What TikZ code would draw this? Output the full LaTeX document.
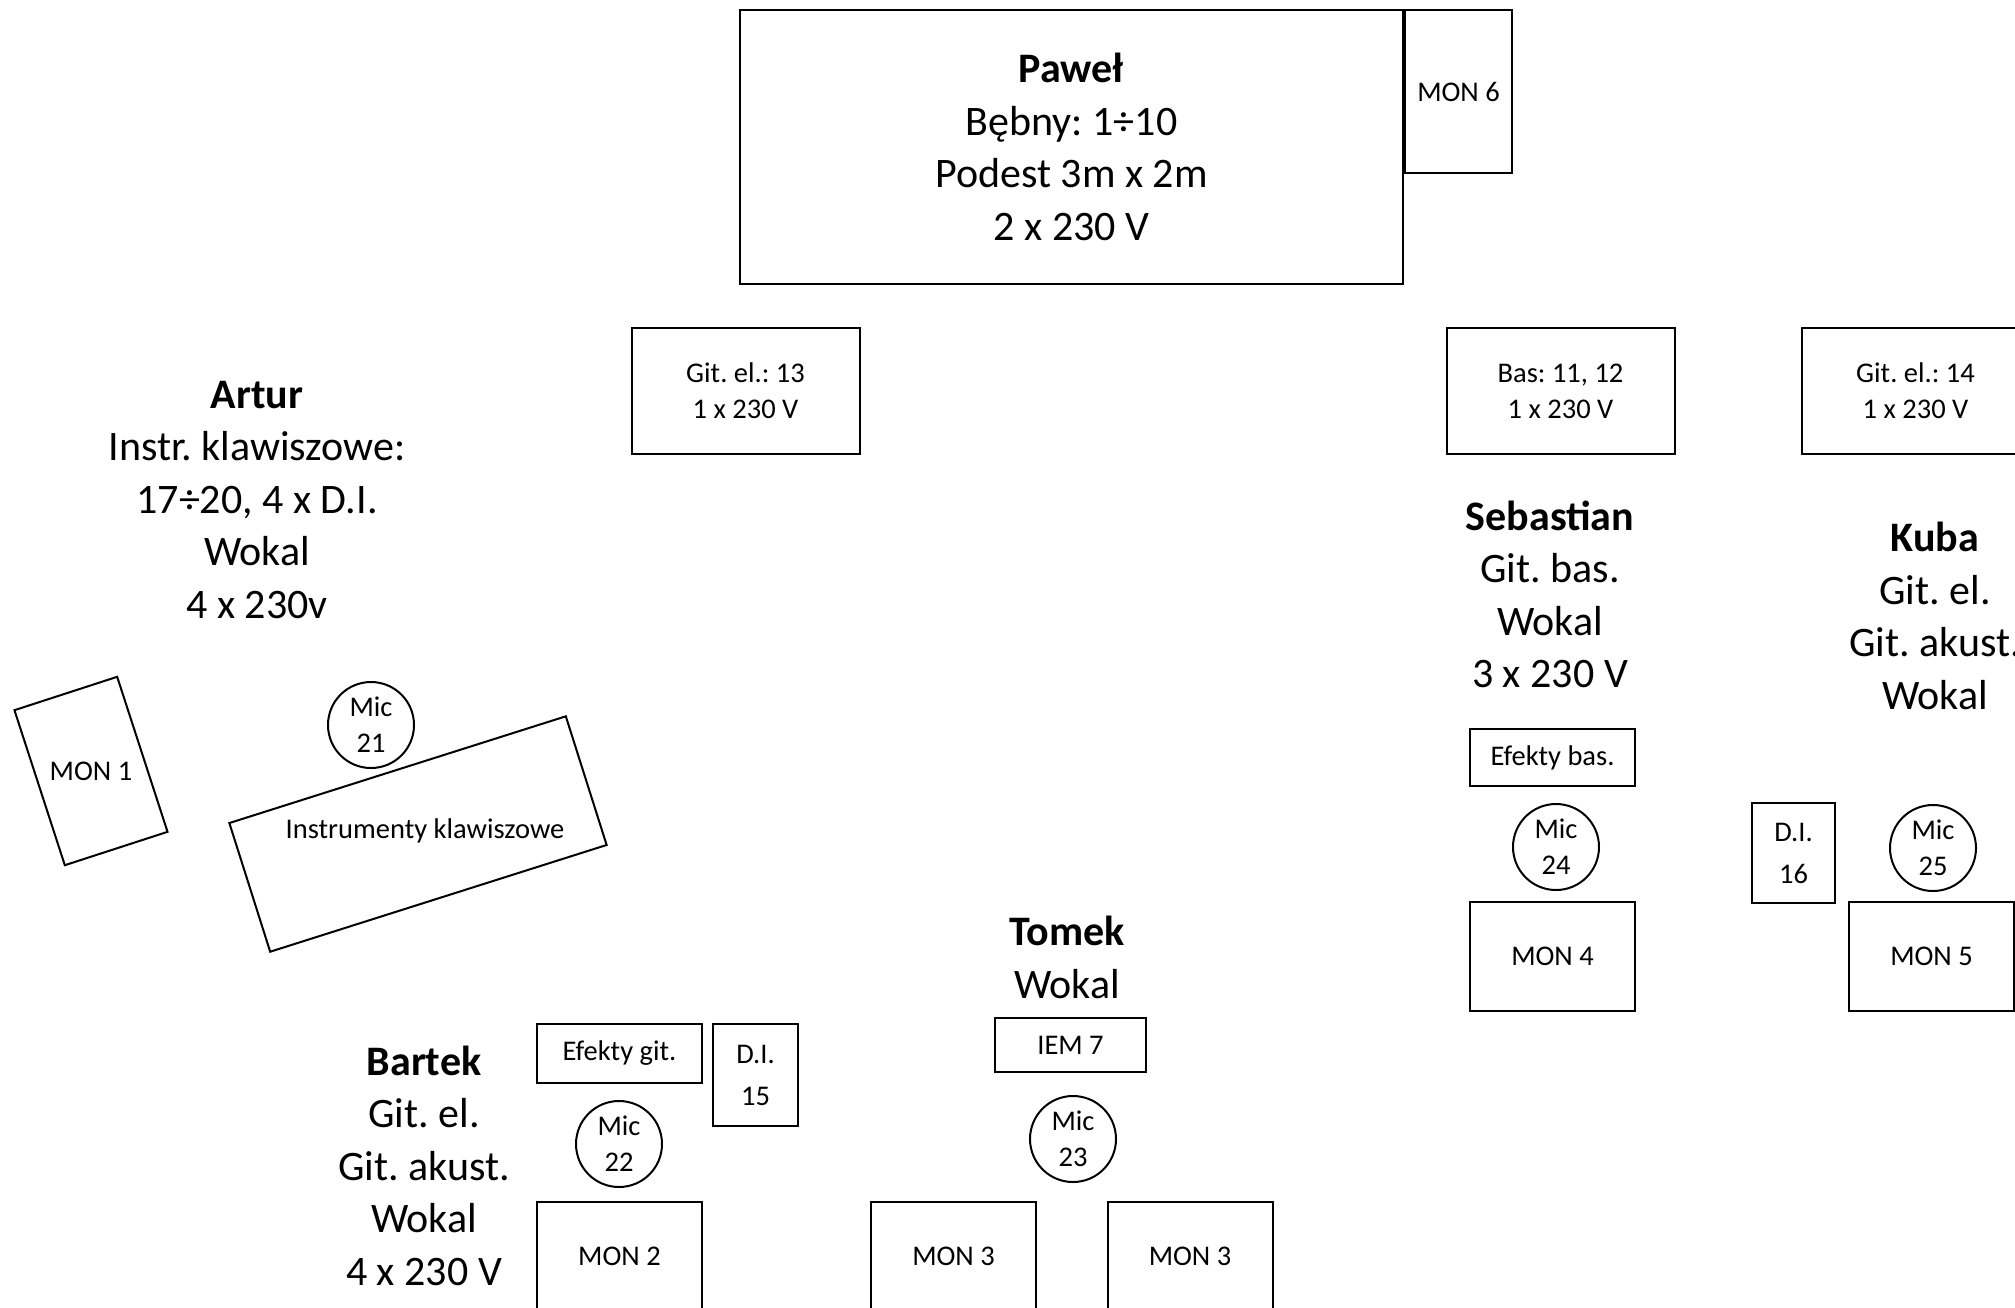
\documentclass[tikz,border=0pt]{standalone}
\usepackage{fontspec}
\setmainfont{Carlito}
\usepackage{tikz}
\usetikzlibrary{positioning}
\frenchspacing

\newcommand{\stagebig}{\fontsize{42}{52.5}\selectfont}
\newcommand{\stagesmall}{\fontsize{28.5}{36}\selectfont}

\begin{document}
\begin{tikzpicture}[x=1pt, y=-1pt, line width=2pt,
box/.style={rectangle,draw,inner sep=0pt,align=center,font=\stagesmall},
monitor/.style={box,minimum width=165pt,minimum height=109pt},
amp/.style={box,minimum width=228pt,minimum height=126pt},
mic/.style={circle,draw,inner sep=0pt,minimum size=86pt,align=center,font=\stagesmall},
person/.style={align=center,font=\stagebig},
]
\useasboundingbox (0,0) rectangle (2015,1307);

%% perkusja
\node[box, font=\stagebig, minimum width=663pt, minimum height=274pt] (pawel) at (1071.5,147)
  {\textbf{Paweł}\\Bębny: 1÷10\\Podest 3m x 2m\\2 x 230 V};
\node[box, minimum width=107pt, minimum height=163pt] (mon6) at (1458.5,91.5) {MON 6};

%% piece
\node[amp] (amp13) at (745.5,391) {Git. el.: 13\\1 x 230 V};
\node[amp] (amp11) at (1560.5,391) {Bas: 11, 12\\1 x 230 V};
\node[amp] (amp14) at (1915.5,391) {Git. el.: 14\\1 x 230 V};

%% Artur
\node[person] (artur) at (257,500) {\textbf{Artur}\\Instr. klawiszowe:\\17÷20, 4 x D.I.\\Wokal\\4 x 230v};
\node[box, rotate=18, minimum width=108pt, minimum height=163pt] (mon1) at (91,771) {};
\node[font=\stagesmall] (mon1txt) at (mon1.center) {MON 1};
\node[box, rotate=17.6, minimum width=353pt, minimum height=135pt] (keys) at (418,834) {};
\node[font=\stagesmall] (keystxt) at (425,831) {Instrumenty klawiszowe};
\node[mic] (mic21) at (371,725) {Mic\\21};

%% Sebastian
\node[person] (sebastian) at (1550,594.5) {\textbf{Sebastian}\\Git. bas.\\Wokal\\3 x 230 V};
\node[box, minimum width=165pt, minimum height=57pt] (fxbas) at (1552.5,757.5) {Efekty bas.};
\node[mic] (mic24) at (1556,847) {Mic\\24};
\node[monitor] (mon4) at (1552.5,956.5) {MON 4};

%% Kuba
\node[person] (kuba) at (1935,616) {\textbf{Kuba}\\Git. el.\\Git. akust.\\Wokal};
\node[box, minimum width=83pt, minimum height=100pt] (di16) at (1793.5,853) {D.I.\\[6pt]16};
\node[mic] (mic25) at (1933,848) {Mic\\25};
\node[monitor] (mon5) at (1931.5,956.5) {MON 5};

%% Tomek
\node[person] (tomek) at (1067,957.5) {\textbf{Tomek}\\Wokal};
\node[box, minimum width=151pt, minimum height=54pt] (iem7) at (1070.5,1045) {IEM 7};
\node[mic] (mic23) at (1073,1139) {Mic\\23};
\node[monitor] (mon3a) at (953.5,1256.5) {MON 3};
\node[monitor] (mon3b) at (1190,1256.5) {MON 3};

%% Bartek
\node[person] (bartek) at (424,1165.5) {\textbf{Bartek}\\Git. el.\\Git. akust.\\Wokal\\4 x 230 V};
\node[box, minimum width=165pt, minimum height=59pt] (fxgit) at (619.5,1053.5) {Efekty git.};
\node[box, minimum width=85pt, minimum height=102pt] (di15) at (755.5,1075) {D.I.\\[6pt]15};
\node[mic] (mic22) at (619,1144) {Mic\\22};
\node[monitor] (mon2) at (619.5,1256.5) {MON 2};
\end{tikzpicture}
\end{document}
